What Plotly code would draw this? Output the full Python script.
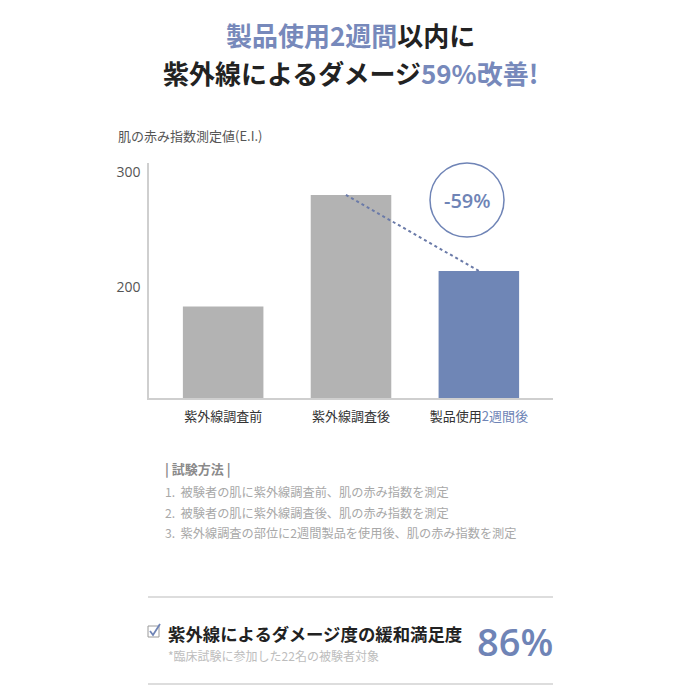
import plotly.graph_objects as go

# ---- data ----
categories = ["紫外線調査前", "紫外線調査後", "製品使用2週間後"]
tick_labels = ["紫外線調査前", "紫外線調査後",
               "製品使用<span style='color:#6f84b6'>2週間後</span>"]
values = [183, 280, 214]
bar_colors = ["#b3b3b3", "#b3b3b3", "#6f86b6"]
y_ticks = [200, 300]
change_label = "-59%"
axis_title = "肌の赤み指数測定値(E.I.)"
method_title = "| 試験方法 |"
method_lines = [
    "1.  被験者の肌に紫外線調査前、肌の赤み指数を測定",
    "2.  被験者の肌に紫外線調査後、肌の赤み指数を測定",
    "3.  紫外線調査の部位に2週間製品を使用後、肌の赤み指数を測定",
]
satisfaction_label = "紫外線によるダメージ度の緩和満足度"
satisfaction_note = "*臨床試験に参加した22名の被験者対象"
satisfaction_value = "86%"

W = H = 700
BLUE = "#6f84b6"
TITLE_BLUE = "#7789bb"
DARK = "#222222"
FONT = "Noto Sans CJK JP"

def px(x):
    return x / W

def py(y):
    return 1 - y / H

xs = list(range(len(categories)))

fig = go.Figure()
fig.add_trace(go.Bar(x=xs, y=values, marker=dict(color=bar_colors, line=dict(width=0)),
                     width=0.63, hoverinfo="skip"))
fig.add_trace(go.Scatter(x=[xs[1] - 0.04, xs[2]], y=[values[1], values[2]], mode="lines",
                         line=dict(color="#6a7aa8", width=2, dash="dot"), hoverinfo="skip"))

fig.update_layout(
    width=W, height=H, margin=dict(l=0, r=0, t=0, b=0),
    paper_bgcolor="white", plot_bgcolor="white", showlegend=False,
    font=dict(family=FONT, color=DARK),
    xaxis=dict(domain=[px(149), px(553)], range=[-0.58, 2.58], tickvals=xs, ticktext=tick_labels,
               showline=True, linecolor="#cfcfcf", linewidth=1.5, showgrid=False, zeroline=False,
               ticks="", tickfont=dict(size=13, color="#333333", family=FONT), ticklabelstandoff=6),
    yaxis=dict(domain=[py(398), py(163)], range=[103.5, 307.8], tickvals=y_ticks,
               showline=True, linecolor="#cfcfcf", linewidth=1.5, showgrid=False, zeroline=False,
               ticks="", tickfont=dict(size=14, color="#555555", family="Open Sans"), ticklabelstandoff=4),
)

ann = []

def add_text(x, y, text, size, color, family=FONT, xanchor="left", weight=None):
    f = dict(size=size, color=color, family=family)
    if weight is not None:
        f["weight"] = weight
    ann.append(dict(x=px(x), y=py(y), xref="paper", yref="paper", showarrow=False,
                    xanchor=xanchor, yanchor="middle", text=text, font=f))

# title
add_text(350, 34, f"<b><span style='color:{TITLE_BLUE}'>製品使用2週間</span>以内に</b>", 26, DARK,
         xanchor="center")
add_text(350, 72, f"<b>紫外線によるダメージ<span style='color:{TITLE_BLUE}'>59%改善!</span></b>", 26, DARK,
         xanchor="center")
# axis title
add_text(116, 135, axis_title, 13, "#555555")
# circle label
add_text(467, 200, change_label, 20, BLUE, family="Open Sans", xanchor="center", weight=600)
# method section
add_text(163, 468, f"<b>{method_title}</b>", 13, "#8a8a8a")
for i, line in enumerate(method_lines):
    add_text(163, 492 + i * 20.5, line, 12.2, "#a8a8a8")
# satisfaction
add_text(166, 633, f"<b>{satisfaction_label}</b>", 17.4, DARK)
add_text(166, 655, satisfaction_note, 12, "#bdbdbd")
add_text(555, 641, satisfaction_value, 38, BLUE, family="Open Sans", xanchor="right", weight=600)
fig.update_layout(annotations=ann)

shapes = []
shapes.append(dict(type="circle", xref="paper", yref="paper",
                   x0=px(430), x1=px(504), y0=py(237), y1=py(163),
                   line=dict(color=BLUE, width=1.5)))
for yy in (597, 684):
    shapes.append(dict(type="line", xref="paper", yref="paper", x0=px(148), x1=px(553),
                       y0=py(yy), y1=py(yy), line=dict(color="#d2d2d2", width=1.5)))
shapes.append(dict(type="rect", xref="paper", yref="paper", x0=px(148), x1=px(159),
                   y0=py(637), y1=py(626), line=dict(color="#9a9a9a", width=1)))
shapes.append(dict(type="path", xref="paper", yref="paper",
                   path=f"M {px(150)},{py(631)} L {px(153)},{py(635)} L {px(160)},{py(624)}",
                   line=dict(color=BLUE, width=1.8)))
fig.update_layout(shapes=shapes)

fig.write_html("out.html")
